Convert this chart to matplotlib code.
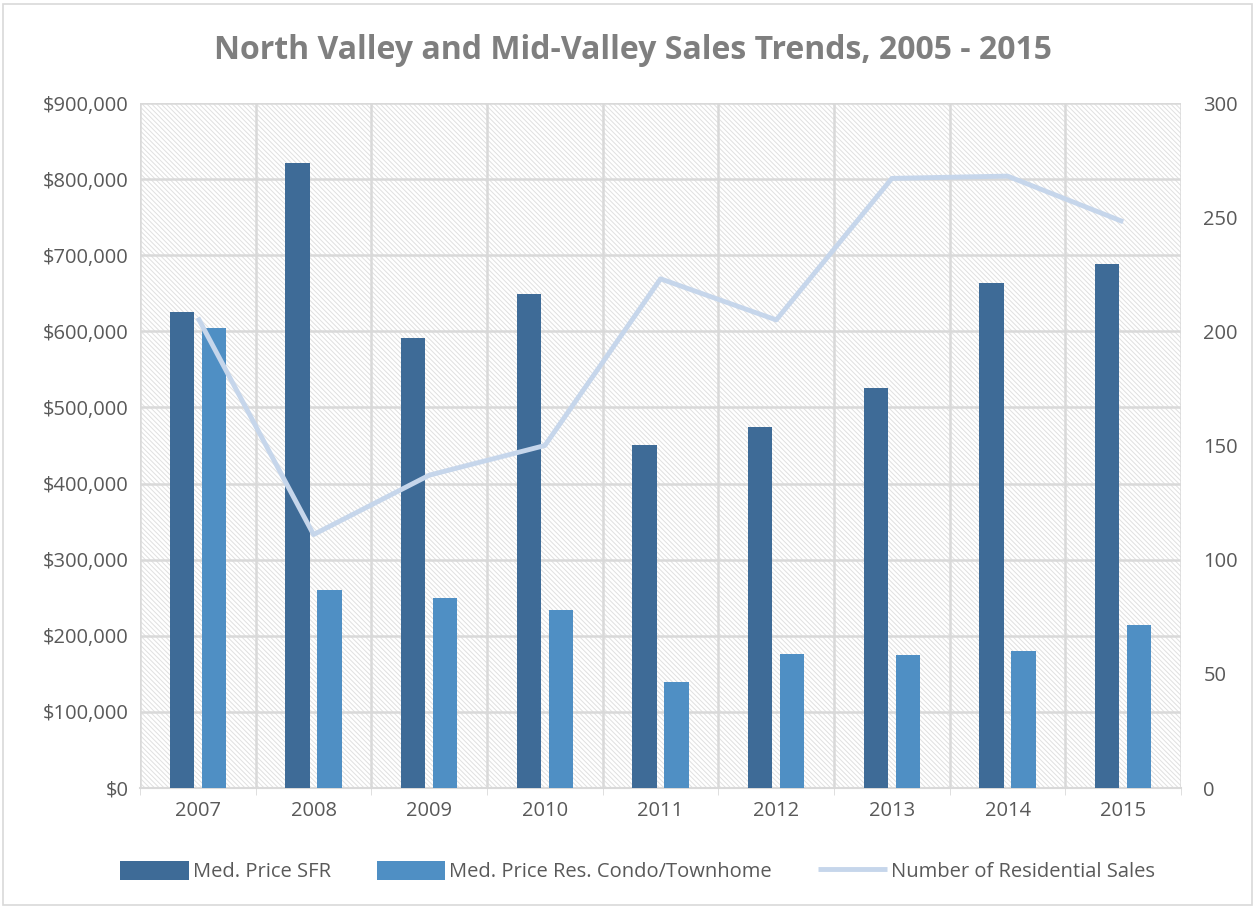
import matplotlib
matplotlib.use("Agg")
import matplotlib.pyplot as plt
import numpy as np
from matplotlib.patches import Rectangle
from matplotlib.ticker import FuncFormatter, MultipleLocator

plt.rcParams["font.family"] = ["Open Sans", "DejaVu Sans"]
plt.rcParams["hatch.linewidth"] = 0.7

years = ["2007", "2008", "2009", "2010", "2011", "2012", "2013", "2014", "2015"]
price_sfr = [626000, 821000, 591000, 649000, 451000, 474000, 526000, 663000, 689000]
price_condo = [604000, 260000, 250000, 234000, 139000, 176000, 175000, 180000, 214000]
num_sales = [206, 111, 137, 150, 223, 205, 267, 268, 248]

fig = plt.figure(figsize=(12.55, 9.07), dpi=100)
ax = fig.add_axes([0.1116, 0.1312, 0.8295, 0.7552])
ax2 = ax.twinx()

# hatched plot-area background
bg = Rectangle((0, 0), 1, 1, transform=ax.transAxes, facecolor="white",
               edgecolor="#e0e0e0", hatch="\\" * 7, linewidth=0, zorder=0)
ax.add_patch(bg)

x = np.arange(len(years))
w = 0.21
ax.bar(x - 0.138, price_sfr, w, color="#3e6b97", label="Med. Price SFR", zorder=3)
ax.bar(x + 0.138, price_condo, w, color="#4f8fc4",
       label="Med. Price Res. Condo/Townhome", zorder=3)
ax2.plot(x, num_sales, color="#c6d6eb", lw=3.5, solid_capstyle="butt",
         label="Number of Residential Sales", zorder=4)

ax.set_xlim(-0.5, len(years) - 0.5)
ax.set_ylim(0, 900000)
ax2.set_ylim(0, 300)
ax.yaxis.set_major_locator(MultipleLocator(100000))
ax2.yaxis.set_major_locator(MultipleLocator(50))
ax.yaxis.set_major_formatter(FuncFormatter(lambda v, p: f"${v:,.0f}"))

ax.set_xticks(x)
ax.set_xticklabels(years)
ax.set_xticks(np.arange(-0.5, len(years)), minor=True)
ax.grid(axis="y", which="major", color="#d9d9d9", lw=1.8, zorder=1)
ax.grid(axis="x", which="minor", color="#d9d9d9", lw=1.8, zorder=1)
ax.tick_params(axis="x", which="major", length=0, pad=9, labelsize=14.5, colors="#595959")
ax.tick_params(axis="x", which="minor", length=5, color="#d9d9d9")
ax.tick_params(axis="y", length=0, pad=8, labelsize=14.5, colors="#595959")
ax2.tick_params(axis="y", length=0, pad=16, labelsize=14.5, colors="#595959")

for a in (ax, ax2):
    for s in a.spines.values():
        s.set_visible(False)
ax.spines["bottom"].set_visible(True)
ax.spines["bottom"].set_color("#d9d9d9")
ax.spines["bottom"].set_linewidth(1.5)
ax.set_zorder(1)
ax2.set_zorder(2)
ax.patch.set_visible(False)
ax2.patch.set_visible(False)

fig.suptitle("North Valley and Mid-Valley Sales Trends, 2005 - 2015",
             x=0.504, y=0.962, fontsize=23, fontweight="bold", color="#7f7f7f")

h1, l1 = ax.get_legend_handles_labels()
h2, l2 = ax2.get_legend_handles_labels()
fig.legend(h1 + h2, l1 + l2, loc="center", bbox_to_anchor=(0.508, 0.039), ncol=3,
           frameon=False, fontsize=14.5, labelcolor="#595959", handlelength=3.4,
           handleheight=1.1, handletextpad=0.2, columnspacing=2.3)

fig.add_artist(Rectangle((0.002, 0.002), 0.996, 0.994, transform=fig.transFigure,
                         fill=False, edgecolor="#d9d9d9", lw=1.2))

fig.savefig("out.png", dpi=100)
